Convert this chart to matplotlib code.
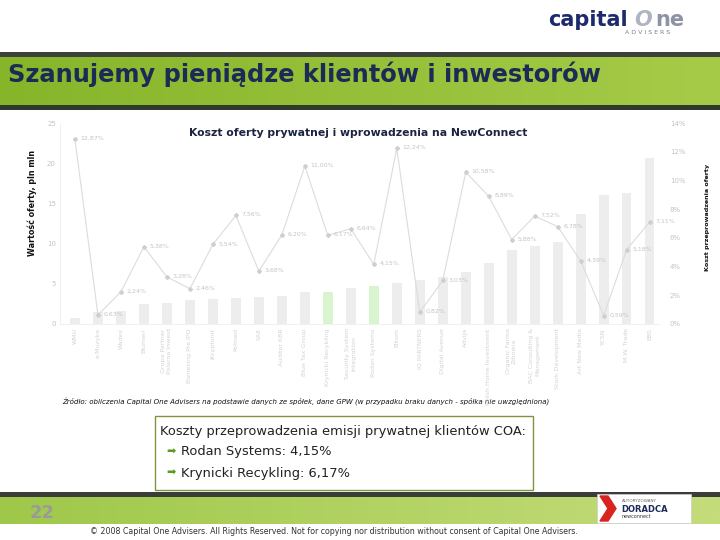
import matplotlib
matplotlib.use('Agg')
import matplotlib.pyplot as plt
import numpy as np
from matplotlib.patches import Rectangle, Polygon

# ---------------- data ----------------
companies = ["WMU", "e-Muzyka", "Wadex", "Blumeri", "Grupa Partner\nPolarna Inwest",
             "Biznesing Pre IPO", "iKryptonit", "Polmed", "SAE", "Auditor KBR",
             "Blue Tax Group", "Krynicki Recykling", "Security System\nIntegration",
             "Rodan Systems", "Elkom", "IQ PARTNERS", "Digital Avenue", "Advija",
             "Polish Home Investment", "Organic Farma\nZdrowia", "BAC Consulting &\nManagement",
             "Stark Development", "Art New Media", "YCSN", "M.W. Trade", "EBS"]
offer_value = [0.7, 1.55, 1.65, 2.5, 2.6, 2.95, 3.1, 3.2, 3.4, 3.5,
               4.0, 4.0, 4.45, 4.7, 5.1, 5.45, 5.8, 6.5,
               7.6, 9.2, 9.7, 10.25, 13.7, 16.0, 16.3, 20.6]
cost_pct = [12.87, 0.63, 2.24, 5.38, 3.28, 2.46, 5.54, 7.56, 3.68, 6.20,
            11.00, 6.17, 6.64, 4.15, 12.24, 0.82, 3.03, 10.58,
            8.89, 5.88, 7.52, 6.78, 4.39, 0.59, 5.18, 7.11]
highlight = ["Krynicki Recykling", "Rodan Systems"]
left_ticks = [0, 5, 10, 15, 20, 25]
right_ticks = [0, 2, 4, 6, 8, 10, 12, 14]

W, H = 720, 540
fig = plt.figure(figsize=(7.2, 5.4), dpi=100)
fig.patch.set_facecolor('white')

# ---------------- decorations (pixel coords) ----------------
bg = fig.add_axes([0, 0, 1, 1], zorder=0)
bg.axis('off')

def hgrad(c1, c2, n=256):
    c1 = np.array(matplotlib.colors.to_rgb(c1)); c2 = np.array(matplotlib.colors.to_rgb(c2))
    t = np.linspace(0, 1, n)[None, :, None]
    return c1 + (c2 - c1) * t

# top banner
bg.add_patch(Rectangle((0, 52), W, 5, color='#3c423a', lw=0))
bg.imshow(hgrad('#86b52a', '#a6cb48'), extent=[0, W, 106, 57], aspect='auto', zorder=1)
bg.add_patch(Rectangle((0, 105), W, 5, color='#2f3a2c', lw=0, zorder=2))
bg.text(8, 74, "Szanujemy pieniądze klientów i inwestorów", fontsize=17.4, fontweight='bold',
        color='#1b2b55', va='center', ha='left', zorder=3)

# logo
bg.text(548, 20, "capital", fontsize=15, fontweight='bold', color='#1d2a6b', va='center', ha='left')
bg.text(643, 20, "O", fontsize=15, fontweight='bold', color='#b0b4c2', va='center', ha='center', style='italic')
bg.text(655, 20, "ne", fontsize=15, fontweight='bold', color='#8d92a6', va='center', ha='left')
bg.text(648, 33, "A D V I S E R S", fontsize=4.5, color='#7a7f90', va='center', ha='center')

# bottom band
bg.add_patch(Rectangle((0, 492), W, 5, color='#3b3d38', lw=0, zorder=2))
bg.imshow(hgrad('#9fc84a', '#c4dc7a'), extent=[0, W, 524, 497], aspect='auto', zorder=1)
bg.text(42, 513, "22", fontsize=13, fontweight='bold', color='#9a9a9a', va='center', ha='center', zorder=3)
# doradca logo
bg.add_patch(Rectangle((597, 494), 94, 29, facecolor='white', edgecolor='#cccccc', lw=0.5, zorder=3))
bg.add_patch(Polygon([[600, 496], [608, 496], [616, 508.5], [608, 521], [600, 521], [608, 508.5]],
                     closed=True, color='#d9231f', zorder=4))
bg.text(622, 501, "AUTORYZOWANY", fontsize=3, color='#666666', va='center', ha='left', zorder=4)
bg.text(621, 509, "DORADCA", fontsize=6, fontweight='bold', color='#1d2a5a', va='center', ha='left', zorder=4)
bg.text(622, 517, "newconnect", fontsize=3.5, color='#333333', va='center', ha='left', zorder=4)

bg.text(90, 532, "© 2008 Capital One Advisers. All Rights Reserved. Not for copying nor distribution without consent of Capital One Advisers.",
        fontsize=5.65, color='#333333', va='center', ha='left')

# info box
bg.add_patch(Rectangle((155, 416), 378, 74, facecolor='white', edgecolor='#7f9440', lw=1.0, zorder=2))
bg.text(160, 432, "Koszty przeprowadzenia emisji prywatnej klientów COA:", fontsize=9.4,
        color='#222222', va='center', ha='left', zorder=3)
for yy, txt in [(452, "Rodan Systems: 4,15%"), (473, "Krynicki Recykling: 6,17%")]:
    bg.text(166, yy, "➡", fontsize=8, color='#5c9a22', va='center', ha='left', zorder=3)
    bg.text(181, yy, txt, fontsize=9.4, color='#222222', va='center', ha='left', zorder=3)

# source
bg.text(62, 402, "Źródło: obliczenia Capital One Advisers na podstawie danych ze spółek, dane GPW (w przypadku braku danych - spółka nie uwzględniona)",
        fontsize=5.05, style='italic', color='#111111', va='center', ha='left')

# axis titles
bg.text(32, 203, "Wartość oferty, pln mln", fontsize=5.8, fontweight='bold', rotation=90,
        color='#111111', va='center', ha='center')
bg.text(708, 217, "Koszt przeprowadzenia oferty", fontsize=4.6, fontweight='bold', rotation=90,
        color='#111111', va='center', ha='center')
bg.text(358, 133, "Koszt oferty prywatnej i wprowadzenia na NewConnect", fontsize=7.8,
        fontweight='bold', color='#1a2440', va='center', ha='center')

bg.set_xlim(0, W)
bg.set_ylim(H, 0)

# ---------------- chart ----------------
ax = fig.add_axes([60 / W, 1 - 324 / H, 600 / W, 201 / H], zorder=2)
ax.patch.set_alpha(0)
x = np.arange(len(companies))
colors = ['#d8f5d0' if c in highlight else '#ededed' for c in companies]
ax.bar(x, offer_value, width=0.42, color=colors, zorder=1)
ax.set_xlim(-0.65, 25.45)
ax.set_ylim(0, 25)
ax.set_yticks(left_ticks)
ax.set_yticklabels([str(t) for t in left_ticks], fontsize=5, color='#c4c4c4')
ax.set_xticks(x)
ax.set_xticklabels(companies, rotation=90, fontsize=4.5, color='#d3d3d3', va='top',
                   multialignment='center')
ax.tick_params(length=0, pad=3)
for s in ['top', 'right']:
    ax.spines[s].set_visible(False)
for s in ['left', 'bottom']:
    ax.spines[s].set_color('#eeeeee')
    ax.spines[s].set_linewidth(0.6)

ax2 = ax.twinx()
ax2.plot(x, cost_pct, color='#dcdcdc', lw=0.8, marker='D', markersize=2,
         markerfacecolor='#cfcfcf', markeredgecolor='#cfcfcf', zorder=3)
for xi, v in zip(x, cost_pct):
    ax2.annotate(f"{v:.2f}".replace('.', ',') + "%", (xi, v), xytext=(4, 0.5),
                 textcoords='offset points', fontsize=4.5, color='#c4c4c4', va='center', ha='left')
ax2.set_ylim(0, 14)
ax2.set_yticks(right_ticks)
ax2.set_yticklabels([f"{t}%" for t in right_ticks], fontsize=5, color='#c4c4c4')
ax2.tick_params(length=0, pad=7)
for s in ax2.spines.values():
    s.set_visible(False)

fig.savefig('out.png', dpi=100)
